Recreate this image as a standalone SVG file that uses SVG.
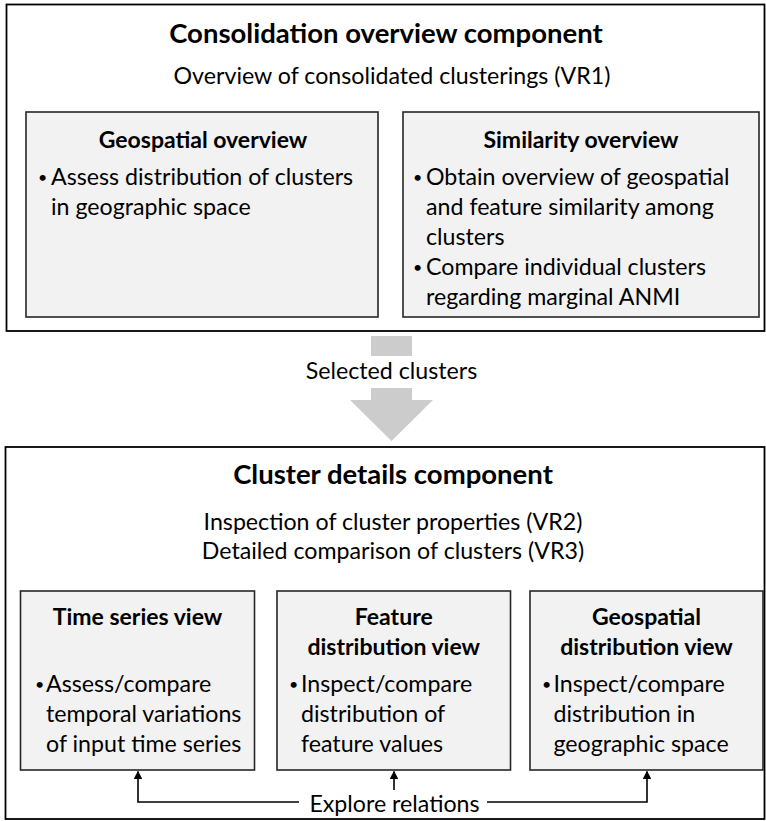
<svg xmlns="http://www.w3.org/2000/svg" width="766" height="821" viewBox="0 0 766 821">
<defs>
<style>
text{font-family:Lato,"Open Sans","Liberation Sans",sans-serif;fill:#000}
.title{font-size:27.5px;font-weight:bold;text-anchor:middle}
.sub{font-size:23.2px;text-anchor:middle}
.head{font-size:23px;font-weight:bold;text-anchor:middle}
.body{font-size:23.2px}
.bul{font-size:16px}
.outer{fill:#fff;stroke:#000;stroke-width:1.8}
.box{fill:#f2f2f2;stroke:#262626;stroke-width:1.6}
.big{fill:#cccccc}
.conn{fill:none;stroke:#000;stroke-width:1.6}
</style>
<marker id="ah" viewBox="0 0 10 10" refX="9" refY="5" markerWidth="5.5" markerHeight="5.5" orient="auto" markerUnits="strokeWidth">
<path d="M0,0 L10,5 L0,10 Z" fill="#000"/>
</marker>
</defs>
<rect width="766" height="821" fill="#fff"/>

<g id="consolidation-overview-component">
<rect class="outer" x="6.5" y="4.5" width="758" height="326.5"/>
<text class="title" x="386" y="43">Consolidation overview component</text>
<text class="sub" x="392" y="84">Overview of consolidated clusterings (VR1)</text>
</g>

<g id="geospatial-overview">
<rect class="box" x="26" y="112" width="352" height="205"/>
<text class="head" x="203" y="148">Geospatial overview</text>
<text class="bul" x="38" y="183">•</text>
<text class="body" x="51" y="185">Assess distribution of clusters</text>
<text class="body" x="51" y="215">in geographic space</text>
</g>

<g id="similarity-overview">
<rect class="box" x="403" y="112" width="356" height="205"/>
<text class="head" x="581" y="148">Similarity overview</text>
<text class="bul" x="413" y="183">•</text>
<text class="body" x="426" y="185">Obtain overview of geospatial</text>
<text class="body" x="426" y="215">and feature similarity among</text>
<text class="body" x="426" y="245">clusters</text>
<text class="bul" x="413" y="273">•</text>
<text class="body" x="426" y="275">Compare individual clusters</text>
<text class="body" x="426" y="305">regarding marginal ANMI</text>
</g>

<g id="selected-clusters-arrow">
<rect class="big" x="371" y="336" width="41" height="20"/>
<text class="sub" x="391.5" y="379">Selected clusters</text>
<path class="big" d="M371,388 H412 V400 H433 L391.5,441 L350,400 H371 Z"/>
</g>

<g id="cluster-details-component">
<rect class="outer" x="5.5" y="447" width="759" height="372"/>
<text class="title" x="393" y="484">Cluster details component</text>
<text class="sub" x="393" y="530">Inspection of cluster properties (VR2)</text>
<text class="sub" x="393" y="559">Detailed comparison of clusters (VR3)</text>
</g>

<g id="time-series-view">
<rect class="box" x="20.5" y="591" width="234" height="179"/>
<text class="head" x="137.5" y="625">Time series view</text>
<text class="bul" x="35" y="690">•</text>
<text class="body" x="46" y="692">Assess/compare</text>
<text class="body" x="46" y="722">temporal variations</text>
<text class="body" x="46" y="752">of input time series</text>
</g>

<g id="feature-distribution-view">
<rect class="box" x="277" y="591" width="233.5" height="179"/>
<text class="head" x="393.75" y="625">Feature</text>
<text class="head" x="393.75" y="655">distribution view</text>
<text class="bul" x="289" y="690">•</text>
<text class="body" x="301" y="692">Inspect/compare</text>
<text class="body" x="301" y="722">distribution of</text>
<text class="body" x="301" y="752">feature values</text>
</g>

<g id="geospatial-distribution-view">
<rect class="box" x="530" y="591" width="233" height="179"/>
<text class="head" x="646.5" y="625">Geospatial</text>
<text class="head" x="646.5" y="655">distribution view</text>
<text class="bul" x="542" y="690">•</text>
<text class="body" x="553.5" y="692">Inspect/compare</text>
<text class="body" x="553.5" y="722">distribution in</text>
<text class="body" x="553.5" y="752">geographic space</text>
</g>

<g id="connectors">
<path class="conn" d="M299,802 H138 V771.5" marker-end="url(#ah)"/>
<path class="conn" d="M394,790 V771.5" marker-end="url(#ah)"/>
<path class="conn" d="M487,802 H647 V771.5" marker-end="url(#ah)"/>
<text class="sub" x="394.5" y="812">Explore relations</text>
</g>
</svg>
